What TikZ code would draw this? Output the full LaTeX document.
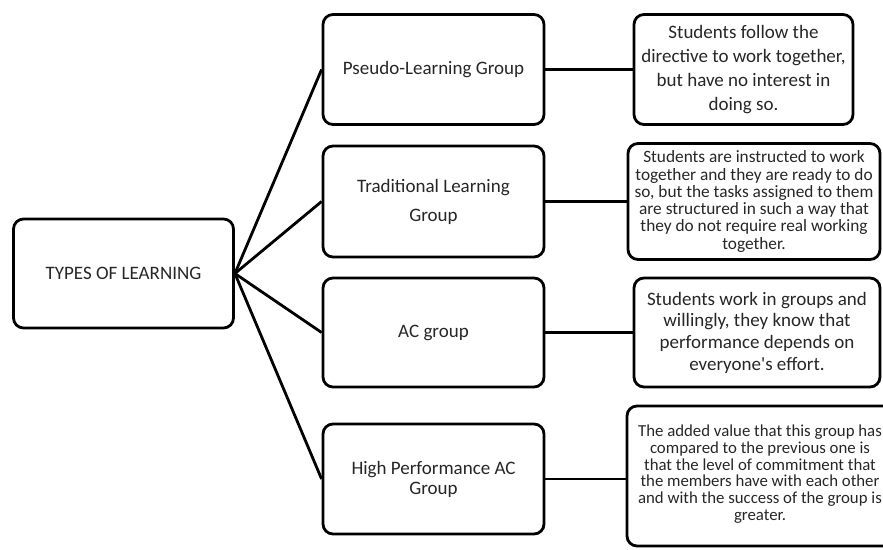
\documentclass[tikz,border=0pt]{standalone}
\usepackage{fontspec}
\setmainfont{Carlito}
\usetikzlibrary{positioning}

\begin{document}
\begin{tikzpicture}[x=1pt,y=-1pt,line width=2.8pt,on grid,
    box/.style={draw,rounded corners=10pt,align=center,inner sep=0pt,
      text=black!85,font=\fontsize{19}{23}\selectfont},
    grp/.style={box,minimum width=221pt,minimum height=110pt}]
  \useasboundingbox (0,0) rectangle (883,549);
  \clip (0,0) rectangle (883,549);
  % root and groups
  \node[box,minimum width=220pt,minimum height=109pt] (types) at (123.5,273.5) {TYPES OF LEARNING};
  \node[grp] (g_1) at (433.5,69.5) {Pseudo-Learning Group};
  \node[grp,minimum height=111pt,font=\fontsize{19}{29}\selectfont] (g_2) at (433.5,201.5) {Traditional Learning\\Group};
  \node[grp,minimum height=109pt] (g_3) at (433.5,332.5) {AC group};
  \node[grp,font=\fontsize{19}{20}\selectfont] (g_4) at (433.5,479) {High Performance AC\\Group};
  % descriptions
  \node[box,minimum width=219pt,minimum height=110pt,font=\fontsize{19}{24}\selectfont] (d_1) [right=310pt of g_1]
    {Students follow the\\directive to work together,\\but have no interest in\\doing so.};
  \node[box,minimum width=252pt,minimum height=116pt,font=\fontsize{17.3}{17.3}\selectfont] (d_2) [right=320.5pt of g_2]
    {Students are instructed to work\\together and they are ready to do\\so, but the tasks assigned to them\\are structured in such a way that\\they do not require real working\\together.};
  \node[box,minimum width=246pt,minimum height=109pt,font=\fontsize{19}{21.7}\selectfont] (d_3) [right=323.5pt of g_3]
    {Students work in groups and\\willingly, they know that\\performance depends on\\everyone\textquotesingle s effort.};
  \node[box,minimum width=266pt,minimum height=140pt,yshift=3pt] (d_4) [right=326.5pt of g_4] {};
  \node[text=black!85,align=center,inner sep=0pt,font=\fontsize{16.8}{16.7}\selectfont,yshift=2pt] (t_4) at (d_4.center)
    {The added value that this group has\\compared to the previous one is\\that the level of commitment that\\the members have with each other\\and with the success of the group is\\greater.};
  % connectors
  \path[line join=round]
    (types.east) edge (g_1.west)
    (types.east) edge (g_2.west)
    (types.east) edge (g_3.west)
    (types.east) edge (g_4.west);
  \path
    (g_1) edge (d_1)
    (g_2) edge (d_2)
    (g_3) edge (d_3)
    (g_4) edge (d_4.west |- g_4);
\end{tikzpicture}
\end{document}
